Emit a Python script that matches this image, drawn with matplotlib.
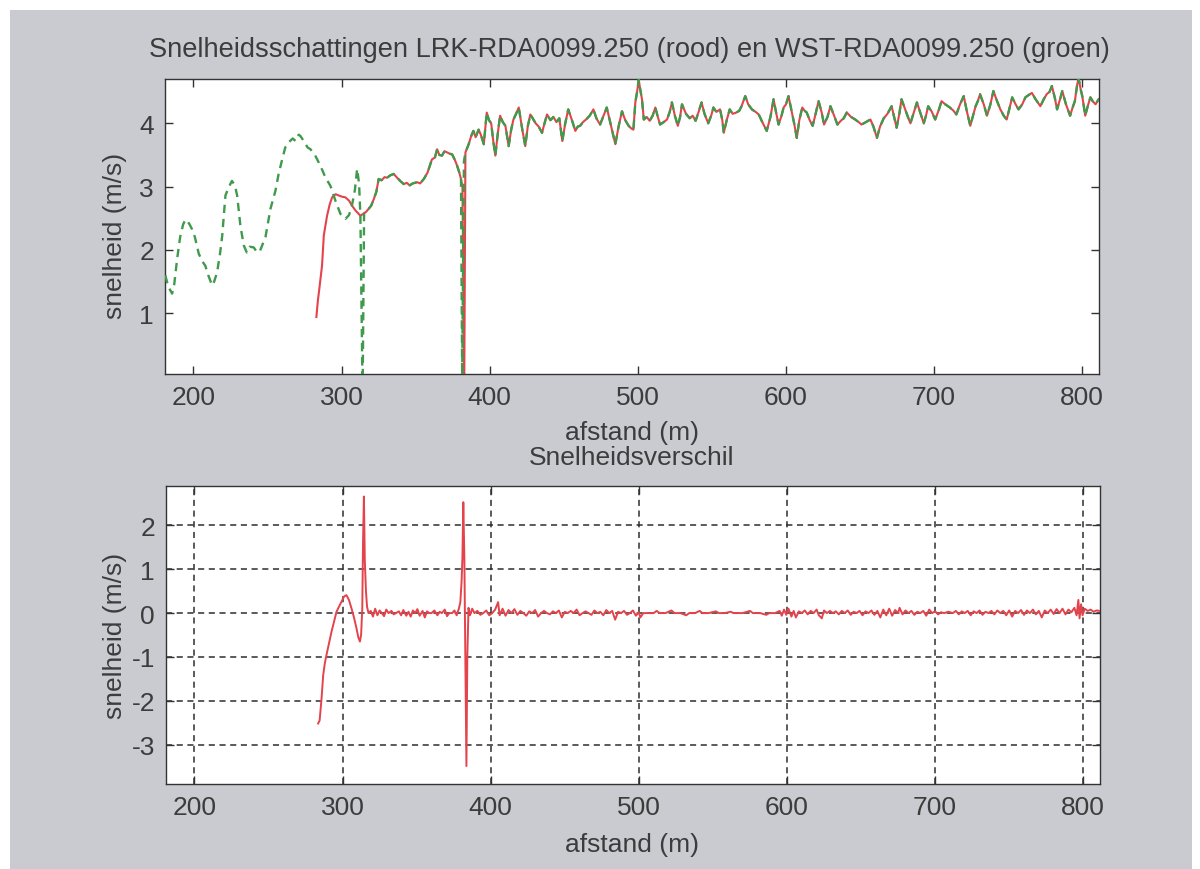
import numpy as np
import matplotlib
matplotlib.use("Agg")
import matplotlib.pyplot as plt
from matplotlib.patches import Rectangle

# --- data (afstand in m, snelheid in m/s) ---

# green (WST) trace before the two sensors overlap
green_early = [
    (181.0, 1.60), (183.0, 1.42), (185.6, 1.31), (187.0, 1.45), (189.0, 1.86),
    (191.0, 2.20), (193.0, 2.40), (194.6, 2.48), (197.0, 2.42), (199.0, 2.33),
    (201.0, 2.20), (203.6, 1.94), (206.0, 1.82), (208.0, 1.75), (210.0, 1.60),
    (212.6, 1.44), (214.0, 1.50), (216.0, 1.65), (218.0, 1.95), (219.4, 2.22),
    (221.6, 2.86), (224.0, 3.00), (226.0, 3.09), (228.0, 3.02), (229.5, 2.86),
    (231.7, 2.38), (234.0, 2.07), (236.0, 1.96), (238.0, 2.05), (240.7, 2.04),
    (243.0, 1.96), (245.0, 1.99), (248.6, 2.20), (252.0, 2.65), (255.3, 2.93),
    (257.5, 3.20), (259.9, 3.43), (262.0, 3.62), (264.3, 3.70), (267.0, 3.76),
    (269.0, 3.72), (271.0, 3.82), (272.2, 3.80), (275.0, 3.70), (277.0, 3.62),
    (279.0, 3.59), (282.0, 3.50), (285.7, 3.33), (289.0, 3.15), (292.5, 3.01),
    (295.8, 2.78), (299.2, 2.57), (302.6, 2.49), (305.0, 2.55), (307.0, 2.70),
    (309.0, 2.95), (310.5, 3.28), (311.8, 3.05), (312.7, 2.54), (314.2, -0.30),
    (315.2, 2.58),
]

# red (LRK) trace where it starts
red_early = [
    (283.0, 0.94), (284.0, 1.20), (285.0, 1.39), (286.8, 1.75), (288.0, 2.23),
    (290.2, 2.54), (292.0, 2.72), (293.6, 2.83), (296.0, 2.88), (298.0, 2.86),
    (300.5, 2.84), (302.6, 2.83), (305.0, 2.78), (307.0, 2.70), (309.5, 2.62),
    (312.7, 2.54), (314.0, 2.56), (315.2, 2.58),
]

# common track (both traces lie on top of each other)
track_a = [
    (316.5, 2.60), (318.3, 2.65), (320.0, 2.70), (321.7, 2.80), (323.5, 2.92),
    (325.0, 3.12), (327.0, 3.10), (329.0, 3.15), (330.7, 3.14), (333.0, 3.18),
    (335.2, 3.20), (337.5, 3.14), (340.0, 3.08), (342.0, 3.04), (344.0, 3.06),
    (346.0, 3.02), (348.0, 3.05), (351.0, 3.07), (353.0, 3.05), (355.5, 3.12),
    (358.0, 3.22), (361.0, 3.43), (363.0, 3.46), (364.5, 3.59), (366.0, 3.50),
    (367.8, 3.49), (369.5, 3.56), (371.2, 3.54), (373.0, 3.52), (374.6, 3.51),
    (376.5, 3.42), (378.0, 3.33), (379.5, 3.22), (380.6, 3.12),
]

# the dip near 382 m, different for each sensor
green_dip = [(381.4, 0.00), (382.6, 3.40)]
red_dip = [(381.6, 3.00), (382.8, -0.20)]

track_b = [
    (383.6, 3.54), (385.8, 3.67), (387.5, 3.80), (389.0, 3.88), (390.5, 3.78),
    (392.5, 3.90), (394.0, 3.82), (396.0, 3.67), (398.0, 4.17), (399.5, 4.05),
    (401.0, 4.00), (402.5, 3.70), (403.8, 3.49), (405.5, 3.85), (407.0, 4.12),
    (408.8, 4.02), (410.6, 3.96), (412.8, 3.64), (414.5, 3.90), (416.0, 4.06),
    (417.8, 4.15), (419.6, 4.25), (421.0, 4.05), (422.0, 3.90), (424.0, 3.64),
    (425.7, 3.95), (427.4, 4.14), (429.0, 4.08), (431.0, 4.00), (433.0, 3.95),
    (435.3, 3.85), (437.0, 4.00), (438.7, 4.14), (441.0, 4.05), (443.0, 4.10),
    (445.0, 4.02), (447.0, 4.08), (449.0, 3.72), (451.0, 4.00), (453.0, 4.22),
    (455.5, 4.05), (457.8, 3.88), (459.5, 3.95), (461.0, 3.96), (463.0, 4.02),
    (465.0, 4.06), (467.5, 4.12), (470.0, 4.22), (472.0, 4.08), (474.5, 3.98),
    (476.5, 4.10), (479.0, 4.25), (481.0, 4.05), (483.0, 3.85), (484.8, 3.67),
    (487.0, 3.95), (489.3, 4.19), (491.5, 4.05), (493.8, 3.96), (495.5, 3.92),
    (497.0, 3.90), (498.3, 4.33), (499.5, 4.50), (500.6, 4.69), (501.5, 4.55),
    (502.8, 4.38), (504.0, 4.06), (506.0, 4.10), (508.0, 4.04), (510.0, 4.12),
    (511.8, 4.25), (513.5, 4.10), (515.0, 3.98), (517.5, 4.02), (519.7, 4.06),
    (521.5, 4.18), (523.0, 4.33), (525.0, 4.12), (527.0, 3.96), (528.5, 4.10),
    (529.8, 4.30), (532.5, 4.15), (535.0, 4.08), (537.0, 4.12), (539.0, 4.04),
    (541.0, 4.18), (543.0, 4.33), (545.0, 4.15), (547.5, 4.00), (549.5, 4.12),
    (551.0, 4.25), (553.0, 4.18), (555.5, 4.22), (557.0, 4.05), (558.0, 3.85),
    (560.0, 4.05), (562.0, 4.22), (564.0, 4.15), (566.5, 4.17), (568.5, 4.20),
    (570.0, 4.27), (572.5, 4.43), (574.5, 4.30), (577.0, 4.22), (579.5, 4.18),
    (581.6, 4.14), (584.0, 4.02), (587.0, 3.88), (589.5, 4.10), (591.6, 4.38),
    (593.5, 4.15), (595.0, 3.98), (597.0, 4.12), (598.4, 4.25), (600.0, 4.30),
    (601.7, 4.43), (604.0, 4.17), (605.5, 4.00), (607.3, 3.77), (609.0, 4.05),
    (611.0, 4.25), (612.5, 4.20), (614.0, 4.17), (616.0, 4.05), (618.0, 3.96),
    (620.0, 4.15), (622.0, 4.35), (624.0, 4.18), (625.7, 3.98), (628.0, 4.10),
    (630.0, 4.27), (632.5, 4.12), (634.7, 3.98), (637.0, 4.04), (639.0, 4.08),
    (641.0, 4.17), (644.0, 4.10), (646.7, 4.06), (649.0, 4.02), (651.0, 3.98),
    (654.0, 4.02), (657.0, 4.06), (659.0, 3.95), (661.4, 3.77), (663.5, 3.95),
    (666.0, 4.08), (668.5, 4.15), (671.3, 4.27), (673.0, 4.10), (674.7, 3.93),
    (676.5, 4.15), (678.0, 4.38), (680.0, 4.25), (682.0, 4.12), (684.0, 4.00),
    (686.0, 4.15), (688.4, 4.33), (690.5, 4.18), (693.0, 4.00), (694.5, 4.12),
    (696.0, 4.27), (698.5, 4.18), (700.7, 4.06), (703.0, 4.20), (705.0, 4.35),
    (707.5, 4.30), (710.6, 4.25), (713.0, 4.20), (715.0, 4.14), (717.5, 4.30),
    (720.0, 4.43), (722.0, 4.20), (724.4, 3.96), (726.0, 4.10), (728.0, 4.27),
    (729.5, 4.35), (731.0, 4.46), (733.5, 4.30), (735.7, 4.12), (738.0, 4.30),
    (740.0, 4.51), (742.5, 4.35), (744.7, 4.22), (747.0, 4.12), (749.0, 4.06),
    (751.0, 4.25), (752.7, 4.41), (755.0, 4.30), (757.0, 4.22), (759.5, 4.30),
    (761.6, 4.41), (764.0, 4.45), (766.0, 4.48), (768.5, 4.38), (771.7, 4.27),
    (774.0, 4.38), (776.0, 4.46), (778.0, 4.50), (779.5, 4.59), (781.5, 4.40),
    (783.0, 4.22), (785.0, 4.38), (786.5, 4.51), (789.0, 4.30), (791.8, 4.12),
    (793.5, 4.25), (795.0, 4.35), (796.5, 4.60), (797.5, 4.72), (798.8, 4.55),
    (800.0, 4.43), (802.0, 4.12), (803.8, 4.28), (805.5, 4.41), (807.0, 4.35),
    (809.0, 4.30), (811.0, 4.38),
]

# snelheidsverschil (rood - groen)
diff_pts = [
    (283.5, -2.52), (284.5, -2.45), (285.8, -1.95), (286.9, -1.42), (288.0, -1.15),
    (289.1, -0.96), (290.8, -0.70), (292.5, -0.43), (294.2, -0.20), (295.9, 0.03),
    (297.6, 0.15), (299.3, 0.26), (301.0, 0.38), (302.6, 0.41), (304.3, 0.30),
    (306.0, 0.11), (307.7, -0.10), (309.4, -0.35), (310.6, -0.55), (311.7, -0.65),
    (312.5, -0.50), (313.3, 0.11), (313.8, 1.60), (314.4, 2.66), (315.0, 1.20),
    (315.8, 0.49), (316.5, 0.15), (317.5, 0.00), (319.0, 0.05), (320.5, -0.08),
    (322.0, 0.10), (323.5, -0.05), (325.0, 0.06), (326.5, 0.00), (328.0, -0.07),
    (329.5, 0.08), (331.0, 0.00), (333.0, 0.05), (334.5, -0.03), (336.0, 0.00),
    (338.0, 0.04), (339.5, -0.05), (341.0, 0.07), (343.0, -0.06), (344.5, 0.03),
    (346.0, -0.08), (347.5, 0.06), (349.0, 0.00), (350.5, 0.09), (352.0, -0.06),
    (354.0, 0.05), (355.5, -0.10), (357.0, 0.04), (358.5, 0.00), (360.0, 0.00),
    (362.0, 0.06), (364.0, -0.05), (365.5, 0.03), (367.0, 0.00), (369.0, 0.08),
    (370.5, -0.07), (372.0, 0.00), (374.0, 0.00), (375.5, 0.06), (377.0, -0.05),
    (378.5, 0.10), (379.5, 0.25), (380.3, 0.70), (380.9, 1.26), (381.5, 2.53),
    (382.2, 1.26), (383.0, -1.50), (383.6, -3.49), (384.2, -1.00), (385.0, 0.12),
    (386.0, -0.05), (387.5, 0.10), (389.0, 0.00), (391.0, 0.05), (393.0, -0.04),
    (395.0, 0.00), (397.0, 0.06), (399.0, -0.05), (401.0, 0.00), (403.0, 0.08),
    (405.0, 0.25), (406.0, -0.05), (408.0, 0.10), (410.0, -0.06), (412.0, 0.07),
    (414.0, 0.00), (416.0, 0.09), (418.0, -0.04), (420.0, 0.05), (422.0, 0.00),
    (424.0, -0.06), (426.0, 0.04), (428.0, 0.00), (430.0, 0.07), (432.0, -0.08),
    (434.0, 0.00), (436.0, 0.05), (438.0, 0.00), (440.0, -0.03), (442.0, 0.04),
    (444.0, 0.00), (446.0, 0.06), (448.0, -0.10), (450.0, 0.03), (452.0, 0.00),
    (454.0, 0.05), (456.0, 0.00), (458.0, 0.08), (460.0, -0.05), (462.0, 0.00),
    (464.0, 0.04), (466.0, 0.00), (468.0, -0.04), (470.0, 0.06), (472.0, 0.00),
    (474.0, 0.03), (476.0, -0.05), (478.0, 0.07), (480.0, 0.00), (482.0, 0.05),
    (484.0, -0.15), (486.0, 0.03), (488.0, 0.00), (490.0, 0.05), (492.0, -0.04),
    (494.0, 0.00), (496.0, 0.06), (498.0, -0.06), (500.0, 0.02), (501.0, -0.10),
    (503.0, 0.00), (506.0, 0.00), (510.0, 0.00), (512.0, 0.05), (514.0, 0.00),
    (518.0, 0.00), (522.0, 0.06), (524.0, 0.00), (528.0, 0.00), (532.0, -0.05),
    (534.0, 0.00), (538.0, 0.00), (541.0, 0.05), (543.0, 0.00), (547.0, 0.00),
    (552.0, 0.04), (554.0, 0.00), (558.0, 0.00), (562.0, 0.03), (564.0, 0.00),
    (570.0, 0.00), (575.0, 0.05), (577.0, 0.00), (582.0, 0.00), (586.0, -0.04),
    (588.0, 0.00), (592.0, 0.00), (595.0, 0.05), (596.5, -0.06), (598.0, 0.08),
    (599.5, -0.04), (601.0, 0.10), (603.0, -0.08), (604.5, 0.05), (606.0, -0.10),
    (608.0, 0.04), (610.0, 0.00), (612.0, 0.06), (614.0, -0.03), (616.0, 0.05),
    (618.0, 0.00), (620.0, 0.08), (621.5, -0.05), (623.5, -0.12), (625.0, 0.06),
    (627.0, 0.00), (629.0, 0.05), (631.0, 0.00), (633.0, 0.04), (635.0, -0.03),
    (637.0, 0.05), (639.0, 0.00), (641.0, 0.06), (643.0, -0.04), (645.0, 0.03),
    (647.0, 0.00), (649.0, 0.05), (651.0, -0.05), (653.0, 0.04), (655.0, 0.00),
    (657.0, 0.06), (659.0, -0.04), (661.0, 0.05), (663.0, -0.10), (665.0, 0.08),
    (667.0, -0.05), (669.0, 0.10), (671.0, -0.06), (673.0, 0.07), (675.0, 0.00),
    (676.0, 0.12), (678.0, -0.03), (680.0, 0.06), (682.0, 0.00), (684.0, 0.05),
    (686.0, -0.04), (688.0, 0.03), (690.0, 0.00), (692.0, 0.05), (694.0, -0.06),
    (696.0, 0.08), (698.0, 0.00), (700.0, 0.04), (702.0, -0.03), (704.0, 0.02),
    (706.0, 0.00), (709.0, 0.03), (712.0, 0.00), (714.0, 0.05), (716.0, -0.03),
    (718.0, 0.04), (720.0, 0.00), (722.0, 0.05), (724.0, -0.05), (726.0, 0.04),
    (728.0, 0.00), (730.0, 0.06), (732.0, -0.04), (734.0, 0.03), (736.0, 0.00),
    (738.0, 0.05), (740.0, -0.03), (742.0, 0.06), (744.0, 0.00), (746.0, 0.05),
    (748.0, -0.05), (750.0, 0.06), (752.0, -0.08), (754.0, 0.05), (756.0, 0.00),
    (758.0, 0.07), (760.0, -0.04), (762.0, 0.06), (764.0, 0.00), (766.0, 0.08),
    (768.0, -0.03), (770.0, 0.05), (772.0, -0.10), (774.0, 0.06), (776.0, 0.00),
    (778.0, 0.08), (780.0, -0.02), (782.0, 0.09), (784.0, 0.00), (786.0, 0.10),
    (788.0, -0.03), (790.0, 0.08), (792.0, 0.02), (794.0, 0.12), (795.5, -0.05),
    (796.7, 0.30), (797.5, -0.12), (798.5, 0.20), (799.5, -0.05), (801.0, 0.10),
    (803.0, 0.05), (805.0, 0.08), (807.0, 0.03), (809.0, 0.06), (811.0, 0.05),
]

x_ticks = [200, 300, 400, 500, 600, 700, 800]
y_ticks_top = [1, 2, 3, 4]
y_ticks_bot = [-3, -2, -1, 0, 1, 2]

title_top = 'Snelheidsschattingen LRK-RDA0099.250 (rood) en WST-RDA0099.250 (groen)'
title_bot = 'Snelheidsverschil'
xlab = 'afstand (m)'
ylab = 'snelheid (m/s)'

# --- build series ---
green = np.array(green_early + track_a + green_dip + track_b)
red = np.array(red_early + track_a + red_dip + track_b)
diff = np.array(diff_pts)

RED = '#e4434c'
GREEN = '#3f9a4c'
TXT = '#3c3c3c'
BG = '#c9cbd0'

plt.rcParams.update({
    'font.family': ['Liberation Sans', 'DejaVu Sans'],
    'font.size': 19,
    'text.color': TXT,
    'axes.edgecolor': '#333333',
    'axes.linewidth': 1.0,
    'axes.unicode_minus': False,
    'xtick.color': '#333333',
    'ytick.color': '#333333',
    'xtick.labelcolor': TXT,
    'ytick.labelcolor': TXT,
})

fig = plt.figure(figsize=(12, 8.7), dpi=100, facecolor='white')
fig.patches.append(Rectangle((10 / 1200, 0), 1182 / 1200, 859 / 870,
                             transform=fig.transFigure, facecolor=BG,
                             edgecolor='none', zorder=-10))

ax1 = fig.add_axes([165 / 1200, 1 - 375 / 870, 934 / 1200, 295 / 870])
ax2 = fig.add_axes([166 / 1200, 1 - 785 / 870, 934 / 1200, 298 / 870])

ax1.plot(red[:, 0], red[:, 1], color=RED, lw=1.5, zorder=2)
ax1.plot(green[:, 0], green[:, 1], color=GREEN, lw=1.7,
         linestyle=(0, (3.5, 2.5)), zorder=3)
ax1.set_xlim(180.8, 811.3)
ax1.set_ylim(0.04, 4.7)
ax1.set_yticks(y_ticks_top)

ax2.plot(diff[:, 0], diff[:, 1], color=RED, lw=1.4, zorder=3)
ax2.set_xlim(180.8, 811.3)
ax2.set_ylim(-3.9, 2.9)
ax2.set_yticks(y_ticks_bot)
ax2.grid(True, color='#2e2e2e', lw=1.1, linestyle=(0, (4, 3)))
ax2.set_axisbelow(True)

for ax in (ax1, ax2):
    ax.set_xticks(x_ticks)
    ax.tick_params(direction='in', top=True, right=True, length=6, width=1,
                   pad=8, labelsize=19)

fig.text(629 / 1200, 1 - 50 / 870, title_top, ha='center', va='center', fontsize=19.6)
fig.text(632 / 1200, 1 - 433 / 870, xlab, ha='center', va='center', fontsize=19)
fig.text(632 / 1200, 1 - 458 / 870, title_bot, ha='center', va='center', fontsize=19)
fig.text(632 / 1200, 1 - 845 / 870, xlab, ha='center', va='center', fontsize=19)
fig.text(115 / 1200, 1 - 236 / 870, ylab, ha='center', va='center', rotation=90, fontsize=19)
fig.text(115 / 1200, 1 - 636 / 870, ylab, ha='center', va='center', rotation=90, fontsize=19)

fig.savefig('out.png', dpi=100, facecolor=fig.get_facecolor())
